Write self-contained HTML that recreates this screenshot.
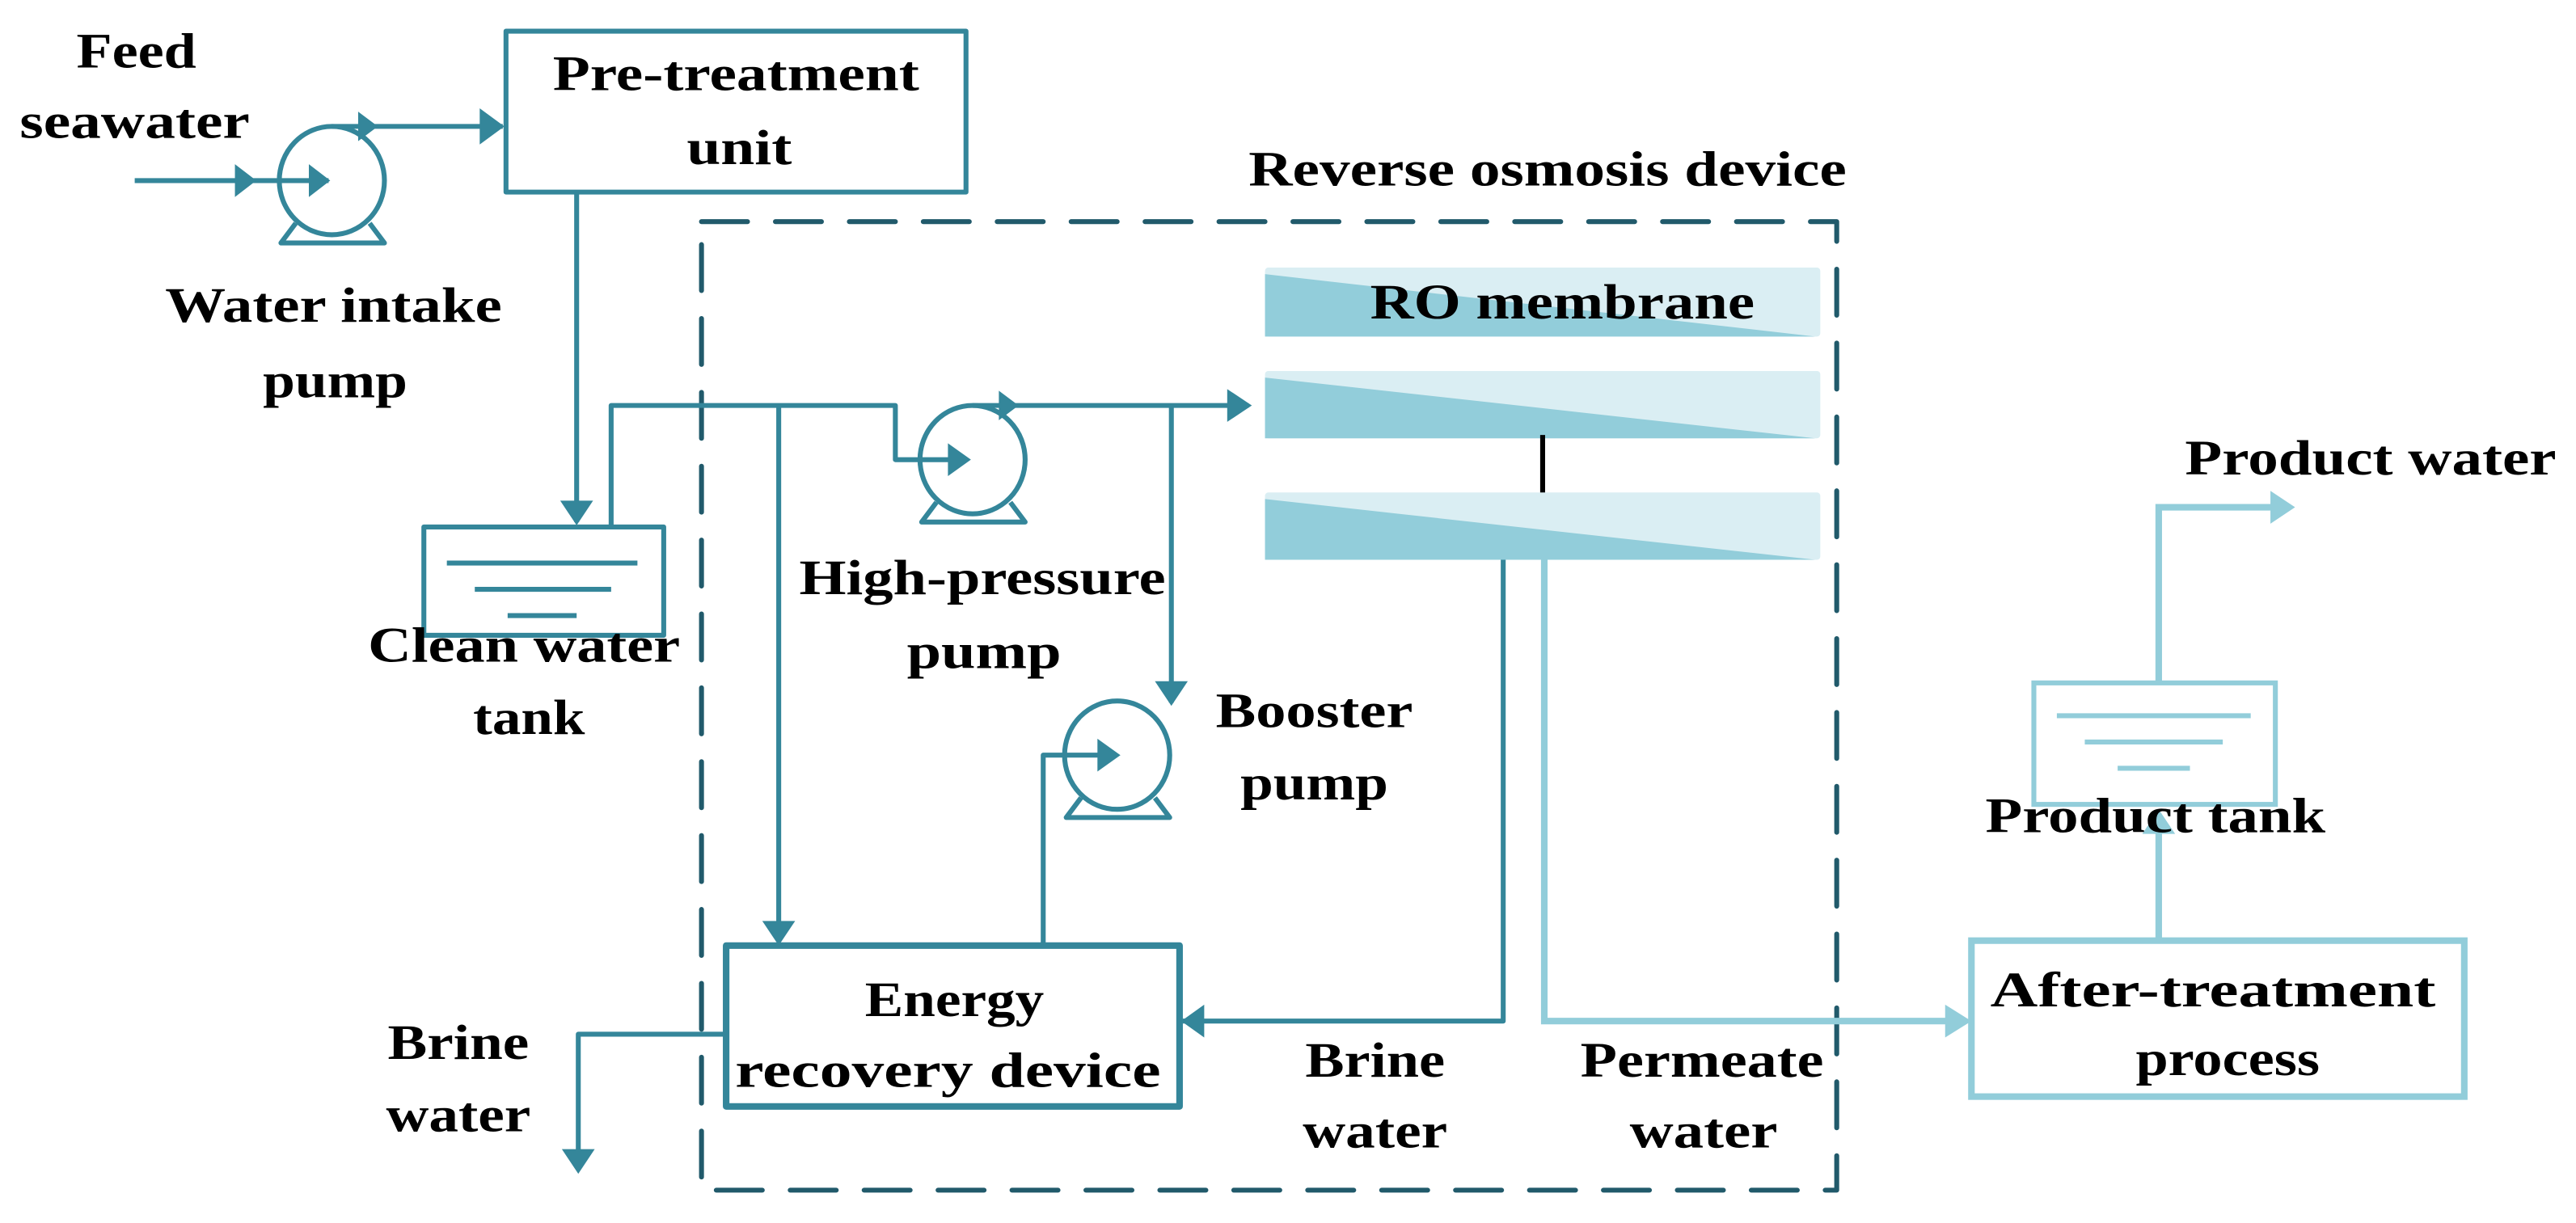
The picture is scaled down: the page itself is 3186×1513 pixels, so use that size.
<!DOCTYPE html>
<html><head><meta charset="utf-8"><style>
html,body{margin:0;padding:0;background:#fff;}
svg{display:block;}
text{font-family:"Liberation Serif",serif;font-weight:bold;font-size:30px;fill:#000;}
</style></head><body>
<svg width="3186" height="1513" viewBox="0 0 1568 745" preserveAspectRatio="none" xmlns="http://www.w3.org/2000/svg">
<g fill="none" stroke="#34869A" stroke-width="3" stroke-linejoin="round">
<rect x="427" y="135" width="691" height="590" stroke="#215A6B" stroke-dasharray="28 17" stroke-linecap="round"/>
<rect x="308" y="19" width="280" height="98"/>
<line x1="82" y1="110" x2="200" y2="110"/>
<path d="M143,100 L156,110 L143,120z M188,100 L201,110 L188,120z" fill="#34869A" stroke="none"/>
<ellipse cx="202" cy="110" rx="32" ry="33"/>
<path d="M180,136 L171,148 L234,148 L225,136" />
<line x1="202" y1="77" x2="306" y2="77"/>
<path d="M218,68 L230,77 L218,86z M292,66 L307,77 L292,88z" fill="#34869A" stroke="none"/>
<line x1="351" y1="117" x2="351" y2="318"/>
<path d="M341,305 L351,320 L361,305z" fill="#34869A" stroke="none"/>
<rect x="258" y="321" width="146" height="66"/>
<line x1="272" y1="343" x2="388" y2="343"/><line x1="289" y1="359" x2="372" y2="359"/><line x1="309" y1="375" x2="351" y2="375"/>
<path d="M372,320 L372,247 L545,247 L545,280 L588,280"/>
<path d="M577,270 L591,280 L577,290z" fill="#34869A" stroke="none"/>
<line x1="474" y1="247" x2="474" y2="573"/>
<path d="M464,561 L474,576 L484,561z" fill="#34869A" stroke="none"/>
<ellipse cx="592" cy="280" rx="32" ry="33"/>
<path d="M570,306 L561,318 L624,318 L615,306"/>
<path d="M592,247 L760,247"/>
<path d="M608,238 L620,247 L608,256z M747,237 L762,247 L747,257z" fill="#34869A" stroke="none"/>
<path d="M713,247 L713,428"/>
<path d="M703,415 L713,430 L723,415z" fill="#34869A" stroke="none"/>
<ellipse cx="680" cy="460" rx="32" ry="33"/>
<path d="M658,486 L649,498 L712,498 L703,486"/>
<path d="M635,575 L635,460 L678,460"/>
<path d="M668,450 L682,460 L668,470z" fill="#34869A" stroke="none"/>
<rect x="442" y="576" width="276" height="98" stroke-width="4"/>
<path d="M442,630 L352,630 L352,712"/>
<path d="M342,700 L352,715 L362,700z" fill="#34869A" stroke="none"/>
<path d="M915,341 L915,622 L720,622"/>
<path d="M733,612 L719,622 L733,632z" fill="#34869A" stroke="none"/>
</g>
<g stroke="none">
<rect x="770" y="163" width="338" height="42" rx="2" fill="#DAEEF3"/>
<path d="M770,167 L1105,205 L770,205z" fill="#92CDDA"/>
<rect x="770" y="226" width="338" height="41" rx="2" fill="#DAEEF3"/>
<path d="M770,230 L1105,267 L770,267z" fill="#92CDDA"/>
<rect x="770" y="300" width="338" height="41" rx="2" fill="#DAEEF3"/>
<path d="M770,304 L1105,341 L770,341z" fill="#92CDDA"/>
</g>
<line x1="939" y1="265" x2="939" y2="300" stroke="#000" stroke-width="3"/>
<g fill="none" stroke="#92CDDA" stroke-width="4">
<path d="M940,341 L940,622 L1196,622"/>
<rect x="1200" y="573" width="300" height="95"/>
<line x1="1314" y1="573" x2="1314" y2="496"/>
<rect x="1238" y="416" width="147" height="74" stroke-width="3"/>
<line x1="1252" y1="436" x2="1370" y2="436" stroke-width="3"/><line x1="1269" y1="452" x2="1353" y2="452" stroke-width="3"/><line x1="1289" y1="468" x2="1333" y2="468" stroke-width="3"/>
<path d="M1314,416 L1314,309 L1390,309"/>
</g>
<path d="M1184,612 L1200,622 L1184,632z M1304,508 L1314,493 L1324,508z M1382,299 L1397,309 L1382,319z" fill="#92CDDA"/>
<text x="83" y="41" text-anchor="middle" textLength="73" lengthAdjust="spacingAndGlyphs">Feed</text>
<text x="82" y="84" text-anchor="middle" textLength="140" lengthAdjust="spacingAndGlyphs">seawater</text>
<text x="448" y="55" text-anchor="middle" textLength="223" lengthAdjust="spacingAndGlyphs">Pre-treatment</text>
<text x="450" y="100" text-anchor="middle" textLength="64" lengthAdjust="spacingAndGlyphs">unit</text>
<text x="203" y="196" text-anchor="middle" textLength="205" lengthAdjust="spacingAndGlyphs">Water intake</text>
<text x="204" y="242" text-anchor="middle" textLength="88" lengthAdjust="spacingAndGlyphs">pump</text>
<text x="319" y="403" text-anchor="middle" textLength="190" lengthAdjust="spacingAndGlyphs">Clean water</text>
<text x="322" y="447" text-anchor="middle" textLength="68" lengthAdjust="spacingAndGlyphs">tank</text>
<text x="598" y="362" text-anchor="middle" textLength="223" lengthAdjust="spacingAndGlyphs">High-pressure</text>
<text x="599" y="407" text-anchor="middle" textLength="94" lengthAdjust="spacingAndGlyphs">pump</text>
<text x="800" y="443" text-anchor="middle" textLength="120" lengthAdjust="spacingAndGlyphs">Booster</text>
<text x="800" y="487" text-anchor="middle" textLength="90" lengthAdjust="spacingAndGlyphs">pump</text>
<text x="942" y="113" text-anchor="middle" textLength="364" lengthAdjust="spacingAndGlyphs">Reverse osmosis device</text>
<text x="951" y="194" text-anchor="middle" textLength="234" lengthAdjust="spacingAndGlyphs">RO membrane</text>
<text x="581" y="619" text-anchor="middle" textLength="109" lengthAdjust="spacingAndGlyphs">Energy</text>
<text x="577" y="662" text-anchor="middle" textLength="259" lengthAdjust="spacingAndGlyphs">recovery device</text>
<text x="279" y="645" text-anchor="middle" textLength="86" lengthAdjust="spacingAndGlyphs">Brine</text>
<text x="279" y="689" text-anchor="middle" textLength="88" lengthAdjust="spacingAndGlyphs">water</text>
<text x="837" y="656" text-anchor="middle" textLength="85" lengthAdjust="spacingAndGlyphs">Brine</text>
<text x="837" y="699" text-anchor="middle" textLength="88" lengthAdjust="spacingAndGlyphs">water</text>
<text x="1036" y="656" text-anchor="middle" textLength="148" lengthAdjust="spacingAndGlyphs">Permeate</text>
<text x="1037" y="699" text-anchor="middle" textLength="90" lengthAdjust="spacingAndGlyphs">water</text>
<text x="1347" y="613" text-anchor="middle" textLength="271" lengthAdjust="spacingAndGlyphs">After-treatment</text>
<text x="1356" y="655" text-anchor="middle" textLength="112" lengthAdjust="spacingAndGlyphs">process</text>
<text x="1312" y="507" text-anchor="middle" textLength="207" lengthAdjust="spacingAndGlyphs">Product tank</text>
<text x="1443" y="289" text-anchor="middle" textLength="226" lengthAdjust="spacingAndGlyphs">Product water</text>
</svg>
</body></html>
